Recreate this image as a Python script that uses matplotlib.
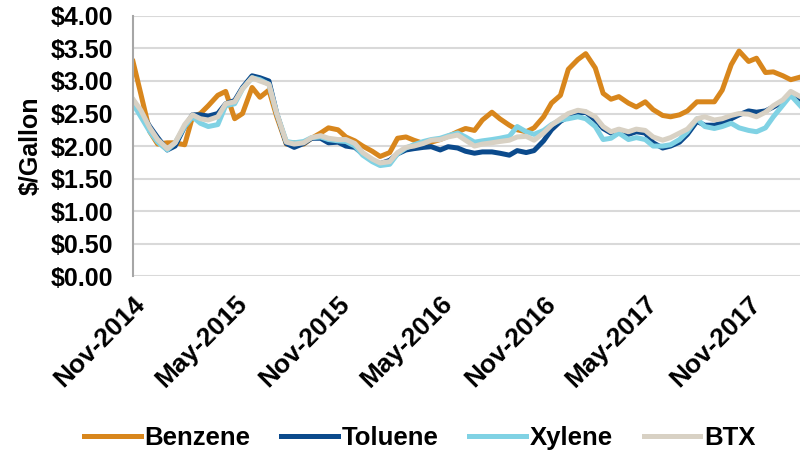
import pandas as pd
import matplotlib
matplotlib.use("Agg")
import matplotlib.pyplot as plt
import matplotlib.dates as mdates
from matplotlib.ticker import FuncFormatter

plt.rcParams['font.family'] = ['Liberation Sans', 'DejaVu Sans']
plt.rcParams['font.weight'] = 'bold'

# semi-monthly prices, Nov 2014 - Feb 2018 ($/gallon)
dates = pd.date_range('2014-11-01', periods=79, freq='SMS')

benzene = [3.30, 2.80, 2.22, 2.03, 2.05, 2.05, 2.02, 2.45, 2.50, 2.62,
           2.78, 2.84, 2.42, 2.50, 2.90, 2.75, 2.86, 2.45, 2.03, 2.05,
           2.03, 2.12, 2.20, 2.28, 2.25, 2.14, 2.08, 2.00, 1.92, 1.84,
           1.90, 2.12, 2.14, 2.09, 2.04, 2.06, 2.10, 2.15, 2.22, 2.27,
           2.24, 2.40, 2.52, 2.42, 2.32, 2.25, 2.22, 2.28, 2.45, 2.66,
           2.78, 3.18, 3.33, 3.42, 3.20, 2.81, 2.72, 2.76, 2.66, 2.60,
           2.68, 2.56, 2.47, 2.45, 2.48, 2.54, 2.68, 2.68, 2.68, 2.86,
           3.25, 3.46, 3.30, 3.35, 3.13, 3.14, 3.08, 3.02, 3.06]

toluene = [2.70, 2.52, 2.30, 2.13, 1.94, 2.00, 2.30, 2.48, 2.48, 2.46,
           2.50, 2.65, 2.70, 2.90, 3.08, 3.05, 3.00, 2.50, 2.04, 1.98,
           2.04, 2.12, 2.12, 2.05, 2.06, 2.00, 1.98, 1.88, 1.78, 1.73,
           1.78, 1.88, 1.94, 1.96, 1.98, 1.99, 1.94, 1.99, 1.97, 1.92,
           1.89, 1.91, 1.91, 1.89, 1.86, 1.93, 1.90, 1.93, 2.08, 2.25,
           2.38, 2.45, 2.50, 2.52, 2.40, 2.27, 2.20, 2.25, 2.18, 2.22,
           2.20, 2.05, 1.97, 2.00, 2.06, 2.18, 2.38, 2.32, 2.32, 2.36,
           2.42, 2.48, 2.54, 2.52, 2.54, 2.60, 2.68, 2.80, 2.72]

xylene = [2.65, 2.45, 2.22, 2.06, 1.94, 2.05, 2.30, 2.45, 2.35, 2.30,
          2.33, 2.62, 2.65, 2.88, 3.05, 3.02, 2.95, 2.50, 2.07, 2.05,
          2.07, 2.13, 2.14, 2.10, 2.08, 2.07, 2.00, 1.86, 1.76, 1.70,
          1.72, 1.88, 1.97, 2.02, 2.07, 2.10, 2.12, 2.16, 2.20, 2.14,
          2.06, 2.08, 2.10, 2.12, 2.15, 2.30, 2.22, 2.18, 2.24, 2.33,
          2.40, 2.42, 2.45, 2.42, 2.30, 2.10, 2.12, 2.20, 2.10, 2.13,
          2.10, 2.00, 2.00, 2.02, 2.10, 2.22, 2.42, 2.30, 2.27, 2.30,
          2.35, 2.28, 2.24, 2.22, 2.28, 2.45, 2.63, 2.78, 2.62]

btx = [2.72, 2.55, 2.28, 2.10, 1.96, 2.05, 2.33, 2.48, 2.42, 2.40,
       2.45, 2.65, 2.68, 2.88, 3.05, 3.00, 2.95, 2.50, 2.06, 2.03,
       2.05, 2.13, 2.16, 2.12, 2.10, 2.10, 2.04, 1.90, 1.80, 1.74,
       1.76, 1.90, 1.98, 2.00, 2.04, 2.09, 2.10, 2.14, 2.17, 2.09,
       2.00, 2.03, 2.05, 2.07, 2.09, 2.14, 2.15, 2.09, 2.20, 2.32,
       2.42, 2.50, 2.55, 2.53, 2.45, 2.30, 2.22, 2.26, 2.22, 2.26,
       2.24, 2.14, 2.09, 2.13, 2.20, 2.26, 2.42, 2.45, 2.40, 2.42,
       2.47, 2.50, 2.49, 2.45, 2.52, 2.62, 2.71, 2.84, 2.76]

tick_dates = pd.to_datetime(['2014-11-01', '2015-05-01', '2015-11-01', '2016-05-01',
                             '2016-11-01', '2017-05-01', '2017-11-01'])

fig = plt.figure(figsize=(8.04, 4.55), dpi=100)
ax = fig.add_axes([0.1654, 0.393, 0.83, 0.572])

lw = 3.6
ax.plot(dates, benzene, color='#D8861C', lw=lw, label='Benzene')
ax.plot(dates, toluene, color='#0B4A8C', lw=lw, label='Toluene')
ax.plot(dates, xylene, color='#80D2E4', lw=lw, label='Xylene')
ax.plot(dates, btx, color='#D8D1C4', lw=lw, label='BTX')

ax.set_ylim(0, 4)
ax.set_yticks([i * 0.5 for i in range(9)])
ax.yaxis.set_major_formatter(FuncFormatter(lambda v, p: '${:.2f}'.format(v)))
ax.set_xlim(dates[0], dates[-1])
ax.set_xticks(tick_dates)
ax.xaxis.set_major_formatter(mdates.DateFormatter('%b-%Y'))

ax.grid(axis='y', color='#D9D9D9', lw=1.5)
ax.set_axisbelow(True)
for s in ['top', 'right', 'bottom']:
    ax.spines[s].set_visible(False)
ax.spines['left'].set_color('#A6A6A6')
ax.spines['left'].set_linewidth(1.5)

ax.tick_params(axis='y', length=0, pad=14, labelsize=18)
ax.tick_params(axis='x', length=0, pad=11, labelsize=19)
for lab in ax.get_xticklabels():
    lab.set_rotation(45)
    lab.set_ha('right')
    lab.set_rotation_mode('anchor')

ax.set_ylabel('$/Gallon', fontsize=18, fontweight='bold', labelpad=6)

fig.legend(loc='lower center', bbox_to_anchor=(0.522, -0.04), ncol=4, frameon=False,
           fontsize=18.5, handlelength=2.2, handletextpad=0.15, columnspacing=1.2)

fig.savefig('out.png', dpi=100)
